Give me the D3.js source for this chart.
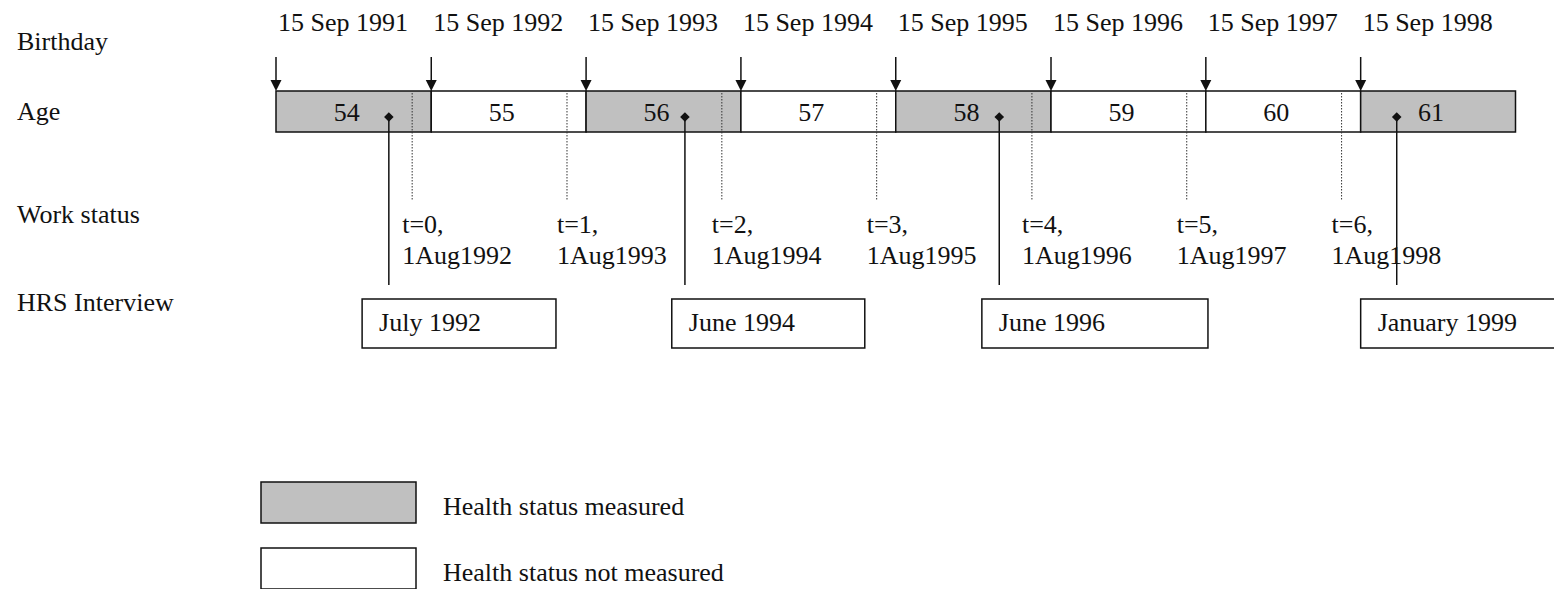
<!DOCTYPE html>
<html>
<head>
<meta charset="utf-8">
<script src="https://cdn.jsdelivr.net/npm/d3@7"></script>
<style>
  html, body { margin: 0; padding: 0; background: #fff; }
  svg { display: block; }
  text { font-family: "Liberation Serif", "Times New Roman", serif; font-size: 26px; fill: #111; }
</style>
</head>
<body>
<svg id="chart" width="1554" height="589"></svg>
<script>
// row labels on the left
const rowLabels   = ['Birthday', 'Age', 'Work status', 'HRS Interview'];

// birthdays / age years
const birthdays   = ['1991-09-15','1992-09-15','1993-09-15','1994-09-15','1995-09-15','1996-09-15','1997-09-15','1998-09-15'];
const birthdayTxt = ['15 Sep 1991','15 Sep 1992','15 Sep 1993','15 Sep 1994','15 Sep 1995','15 Sep 1996','15 Sep 1997','15 Sep 1998'];
const ages        = [54, 55, 56, 57, 58, 59, 60, 61];
const measured    = [true, false, true, false, true, false, false, true];

// work status reference dates
const workDates   = ['1992-08-01','1993-08-01','1994-08-01','1995-08-01','1996-08-01','1997-08-01','1998-08-01'];
const workT       = ['t=0,','t=1,','t=2,','t=3,','t=4,','t=5,','t=6,'];
const workTxt     = ['1Aug1992','1Aug1993','1Aug1994','1Aug1995','1Aug1996','1Aug1997','1Aug1998'];

// HRS interviews
const hrsNames    = ['July 1992','June 1994','June 1996','January 1999'];
const hrsMarks    = ['1992-06-07','1994-05-06','1996-05-16','1998-12-09'];
const hrsFrom     = ['1992-04-05','1994-04-05','1996-04-05','1998-09-15'];
const hrsTo       = ['1993-07-06','1995-07-04','1997-09-20','1999-12-31'];

// legend
const legendTxt   = ['Health status measured', 'Health status not measured'];

const parse = d3.timeParse('%Y-%m-%d');
const svg = d3.select('#chart');
const INK = '#111', GREY = '#c0c0c0';

const x = d3.scaleTime()
  .domain([parse('1991-09-15'), parse('1999-09-15')])
  .range([276, 1515.5]);

const rowY = d3.scaleOrdinal().domain(rowLabels).range([50, 120, 223, 311]);
const barTop = 91, barBot = 132;

svg.selectAll('text.row').data(rowLabels).join('text')
  .attr('class', 'row').attr('x', 17).attr('y', d => rowY(d)).text(d => d);

// age segments
const segs = ages.map((a, i) => ({
  age: a, fill: measured[i],
  x0: x(parse(birthdays[i])),
  x1: i < ages.length - 1 ? x(parse(birthdays[i + 1])) : x.range()[1]
}));

svg.selectAll('rect.seg').data(segs).join('rect')
  .attr('class', 'seg')
  .attr('x', d => d.x0).attr('y', barTop)
  .attr('width', d => d.x1 - d.x0).attr('height', barBot - barTop)
  .attr('fill', d => d.fill ? GREY : '#fff')
  .attr('stroke', INK).attr('stroke-width', 1.5);

// dotted work-status lines
svg.selectAll('line.work').data(workDates).join('line')
  .attr('class', 'work')
  .attr('x1', d => x(parse(d))).attr('x2', d => x(parse(d)))
  .attr('y1', barTop + 2).attr('y2', 200)
  .attr('stroke', '#333').attr('stroke-width', 1).attr('stroke-dasharray', '1.5,1.5');

svg.selectAll('text.age').data(segs).join('text')
  .attr('class', 'age')
  .attr('x', d => (d.x0 + d.x1) / 2 - 7).attr('y', 121)
  .attr('text-anchor', 'middle').text(d => d.age);

// birthday arrows and labels
const bd = birthdays.map((d, i) => ({ x: x(parse(d)), label: birthdayTxt[i] }));
svg.selectAll('line.arrow').data(bd).join('line')
  .attr('class', 'arrow')
  .attr('x1', d => d.x).attr('x2', d => d.x)
  .attr('y1', 57).attr('y2', 82)
  .attr('stroke', INK).attr('stroke-width', 1.5);
svg.selectAll('path.head').data(bd).join('path')
  .attr('class', 'head')
  .attr('d', d => `M${d.x - 5.5},${barTop - 11}L${d.x + 5.5},${barTop - 11}L${d.x},${barTop}Z`)
  .attr('fill', INK);
svg.selectAll('text.bday').data(bd).join('text')
  .attr('class', 'bday').attr('x', d => d.x + 2).attr('y', 31).text(d => d.label);

// work status labels
const ws = workDates.map((d, i) => ({ x: x(parse(d)), t: workT[i], lab: workTxt[i] }));
const wsText = svg.selectAll('text.ws').data(ws).join('text')
  .attr('class', 'ws').attr('x', d => d.x - 10).attr('y', 233);
wsText.append('tspan').text(d => d.t);
wsText.append('tspan').attr('x', d => d.x - 10).attr('dy', 31).text(d => d.lab);

// HRS interview boxes
const hrs = hrsNames.map((n, i) => ({
  name: n, m: x(parse(hrsMarks[i])),
  b0: x(parse(hrsFrom[i])), b1: x(parse(hrsTo[i]))
}));
svg.selectAll('rect.hrs').data(hrs).join('rect')
  .attr('class', 'hrs')
  .attr('x', d => d.b0).attr('y', 299)
  .attr('width', d => d.b1 - d.b0).attr('height', 49)
  .attr('fill', '#fff').attr('stroke', INK).attr('stroke-width', 1.5);
svg.selectAll('text.hrs').data(hrs).join('text')
  .attr('class', 'hrs').attr('x', d => d.b0 + 17).attr('y', 331).text(d => d.name);

svg.selectAll('line.hrs').data(hrs).join('line')
  .attr('class', 'hrs')
  .attr('x1', d => d.m).attr('x2', d => d.m)
  .attr('y1', 117).attr('y2', 285)
  .attr('stroke', INK).attr('stroke-width', 1.5);
svg.selectAll('path.dia').data(hrs).join('path')
  .attr('class', 'dia')
  .attr('transform', d => `translate(${d.m},117) rotate(45)`)
  .attr('d', d3.symbol(d3.symbolSquare, 46)())
  .attr('fill', INK);

// legend
const lg = svg.selectAll('g.lg').data(legendTxt).join('g')
  .attr('class', 'lg').attr('transform', (d, i) => `translate(261,${482 + i * 66})`);
lg.append('rect')
  .attr('width', 155).attr('height', 41)
  .attr('fill', (d, i) => i === 0 ? GREY : '#fff')
  .attr('stroke', INK).attr('stroke-width', 1.5);
lg.append('text').attr('x', 182).attr('y', 33).text(d => d);
</script>
</body>
</html>
